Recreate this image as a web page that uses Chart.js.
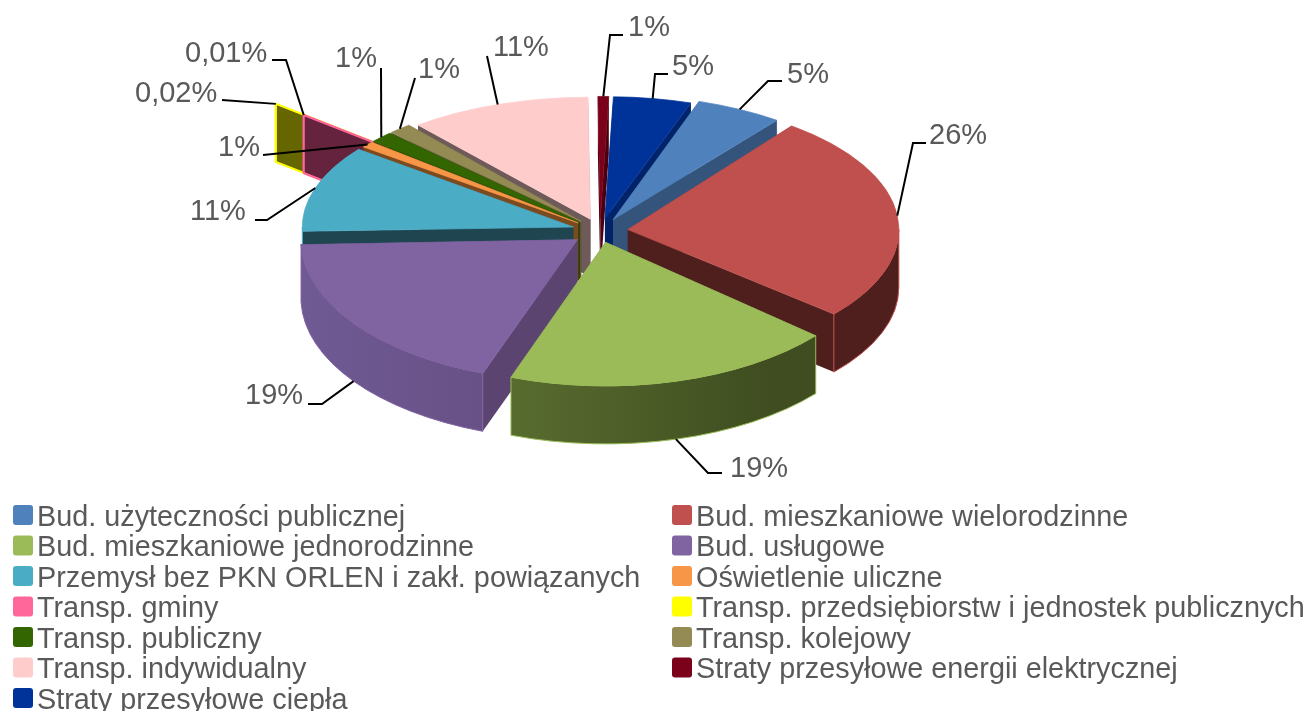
<!DOCTYPE html>
<html lang="pl"><head><meta charset="utf-8">
<style>html,body{margin:0;padding:0;background:#fff;overflow:hidden}canvas{display:block}</style>
<script src="https://cdn.jsdelivr.net/npm/chart.js@4"></script>
</head><body><canvas id="c" width="1311" height="711"></canvas>
<script>
const categories = ["Bud. użyteczności publicznej","Bud. mieszkaniowe wielorodzinne","Bud. mieszkaniowe jednorodzinne","Bud. usługowe","Przemysł bez PKN ORLEN i zakł. powiązanych","Oświetlenie uliczne","Transp. gminy","Transp. przedsiębiorstw i jednostek publicznych","Transp. publiczny","Transp. kolejowy","Transp. indywidualny","Straty przesyłowe energii elektrycznej","Straty przesyłowe ciepła"];
const shares = [5.19,25.92,19.3,18.9,10.97,0.78,0.01,0.02,1.39,1.39,10.83,0.64,4.64];
const valueLabels = ["5%","26%","19%","19%","11%","1%","0,01%","0,02%","1%","1%","11%","1%","5%"];
const topColors = ["#4F81BD","#C0504D","#9BBB59","#8064A2","#4BACC6","#F79646","#FF6699","#FFFF00","#336600","#948A54","#FFCCCC","#7B0019","#003399"];
const wallLeft  = ["#34547C","#4F1F1D","#6A8139","#6F5A94","#1F4650","#7C4A1F","#66233D","#666600","#1C3A00","#5E5738","#6F5A5A","#4A0010","#00236A"];
const wallRight = ["#34547C","#4F1F1D","#3F4D20","#5C4470","#1F4650","#7C4A1F","#66233D","#666600","#1C3A00","#5E5738","#6F5A5A","#4A0010","#00236A"];
const explode = [28,28,22,28,28,28,118,155,28,28,28,28,28];
const squash  = [.46,.48,.53,.525,.47,.46,.46,.46,.46,.46,.45,.45,.45];
const stretch = [1,1,1.02,1.02,1,1,1,1,1,1,1,1,1];
const drawOrder = [7,6,10,9,8,5,11,12,0,4,1,3,2];
// label layout: text left x, text centre y, elbow points of the leader
const labelLayout = [
 {x:787,y:75,pts:[[768,81],[782,81]]},
 {x:929,y:136,pts:[[913,143],[926,143]]},
 {x:730,y:469,pts:[[708,473],[722,473]]},
 {x:245,y:396,pts:[[322,404],[308,404]]},
 {x:190,y:212,pts:[[267,220],[255,220]]},
 {x:218,y:148,pts:[[263,155]]},
 {x:185,y:54,pts:[[286,60],[272,60]]},
 {x:135,y:94,pts:[[222,100]]},
 {x:335,y:59,pts:[[381,68]]},
 {x:418,y:70,pts:[[415,78]]},
 {x:493,y:48,pts:[[487,56]]},
 {x:628,y:28,pts:[[610,35],[623,35]]},
 {x:672,y:67,pts:[[655,74],[668,74]]}
];
const WALL = 58, LABEL_FONT = '29px "Liberation Sans"', LEGEND_FONT = '28.8px "Liberation Sans"', TEXT = '#595959';
const legendCols = [13,672], legendTop = 515, legendStep = 30.5;

function geom(arc,i){
  const mid=(arc.startAngle+arc.endAngle)/2, s=squash[i], d=explode[i];
  const rx=arc.outerRadius*stretch[i];
  return {cx:arc.x+d*Math.cos(mid), cy:arc.y+d*s*Math.sin(mid), rx, ry:arc.outerRadius*s, s, mid, st:stretch[i]};
}
function frontRange(a0,a1){
  // part of the rim that faces the viewer (canvas angles 0..PI, modulo a full turn)
  const T=2*Math.PI;
  for(const k of [-1,0,1]){
    const lo=Math.max(a0,k*T), hi=Math.min(a1,k*T+Math.PI);
    if(hi>lo) return [lo,hi];
  }
  return null;
}
const pie3d = {
  id:'pie3d',
  beforeDatasetDraw(chart,args){
    const ctx=chart.ctx, arcs=args.meta.data;
    drawOrder.forEach(i=>{
      const arc=arcs[i], g=geom(arc,i), a0=arc.startAngle, a1=arc.endAngle;
      const rim=a=>[g.cx+g.rx*Math.cos(a), g.cy+g.ry*Math.sin(a)];
      ctx.save();
      ctx.lineJoin='round';
      ctx.strokeStyle=topColors[i];
      ctx.lineWidth=(i===6||i===7)?2:1;
      [a0,a1].forEach(a=>{
        const p=rim(a);
        ctx.beginPath();
        ctx.moveTo(g.cx,g.cy);ctx.lineTo(p[0],p[1]);ctx.lineTo(p[0],p[1]+WALL);ctx.lineTo(g.cx,g.cy+WALL);ctx.closePath();
        ctx.fillStyle=wallRight[i];ctx.fill();
        if(i===6||i===7)ctx.stroke();
      });
      const fr=frontRange(a0,a1);
      if(fr){
        const grad=ctx.createLinearGradient(g.cx-g.rx,0,g.cx+g.rx*0.6,0);
        grad.addColorStop(0,wallLeft[i]);grad.addColorStop(1,wallRight[i]);
        ctx.beginPath();
        ctx.ellipse(g.cx,g.cy,g.rx,g.ry,0,fr[0],fr[1]);
        ctx.ellipse(g.cx,g.cy+WALL,g.rx,g.ry,0,fr[1],fr[0],true);
        ctx.closePath();
        ctx.fillStyle=grad;ctx.fill();
        ctx.lineWidth=1;ctx.stroke();
      }
      ctx.translate(g.cx,g.cy);ctx.scale(g.st,g.s);ctx.translate(-arc.x,-arc.y);
      arc.draw(ctx,chart.chartArea);
      ctx.restore();
    });
    return false;
  },
  afterDraw(chart){
    const ctx=chart.ctx, arcs=chart.getDatasetMeta(0).data;
    ctx.save();
    ctx.strokeStyle='#000';ctx.lineWidth=2;ctx.lineJoin='miter';
    arcs.forEach((arc,i)=>{
      const g=geom(arc,i), front=Math.sin(g.mid)>0.3;
      const ax=g.cx+g.rx*Math.cos(g.mid), ay=g.cy+g.ry*Math.sin(g.mid)+(front?WALL:0);
      ctx.beginPath();ctx.moveTo(ax,ay);
      labelLayout[i].pts.forEach(p=>ctx.lineTo(p[0],p[1]));
      ctx.stroke();
    });
    ctx.fillStyle=TEXT;ctx.textBaseline='middle';ctx.textAlign='left';
    ctx.font=LABEL_FONT;
    valueLabels.forEach((t,i)=>ctx.fillText(t,labelLayout[i].x,labelLayout[i].y));
    ctx.font=LEGEND_FONT;
    categories.forEach((t,i)=>{
      const col=i%2, row=Math.floor(i/2), x=legendCols[col], y=legendTop+row*legendStep;
      ctx.fillStyle=topColors[i];
      ctx.beginPath();ctx.roundRect(x,y-10,20,20,3);ctx.fill();
      ctx.fillStyle=TEXT;
      ctx.fillText(t,x+24,y+3);
    });
    ctx.restore();
  }
};
new Chart(document.getElementById('c'),{
  type:'pie',
  data:{labels:categories,datasets:[{data:shares,backgroundColor:topColors,borderColor:topColors,borderWidth:1,borderJoinStyle:'round'}]},
  options:{
    responsive:false,animation:false,events:[],
    radius:271,rotation:18.5,
    layout:{padding:{left:0,right:111,top:0,bottom:249}},
    plugins:{legend:{display:false},tooltip:{enabled:false},title:{display:false}}
  },
  plugins:[pie3d]
});
</script></body></html>
